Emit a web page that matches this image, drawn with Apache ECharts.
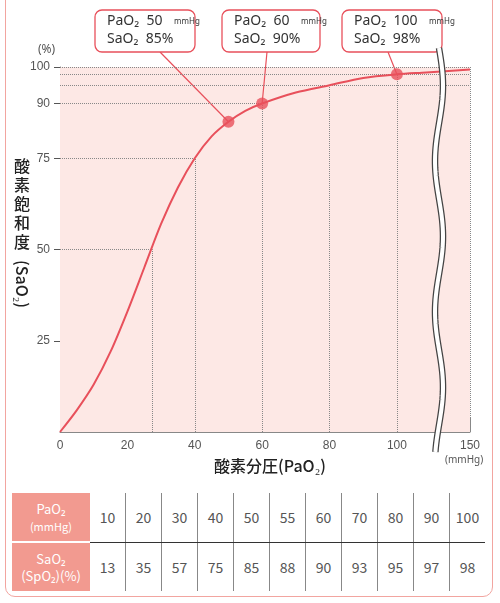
<!DOCTYPE html><html><head><meta charset="utf-8">
<script src="https://cdn.jsdelivr.net/npm/echarts@6/dist/echarts.min.js"></script>
<style>
body{margin:0;width:500px;height:603px;position:relative;background:#fff;font-family:"Noto Sans CJK JP","Noto Sans",sans-serif;overflow:hidden}
#frame{position:absolute;left:5px;top:-12px;width:486px;height:607px;border:1.5px solid #f2a5a0;border-radius:10px}
#c{position:absolute;left:0;top:0;width:500px;height:485px}
table{position:absolute;left:12px;top:493px;border-collapse:collapse;color:#555;font-size:14px;table-layout:fixed}
td{text-align:center;width:35px;height:48px;border-left:1px solid #888;padding:0}
td.h{background:#f29a90;color:#fff;width:78px;border:none;font-size:13px;line-height:17px}
tr.r1 td{border-bottom:1px solid #333}
tr.r1 td.h{border-bottom:2px solid #fff}
td.first{border-left:none}
</style></head><body>
<div id="frame"></div>
<div id="c"></div>
<table id="t"></table>
<script>
const tablePaO2=[10,20,30,40,50,55,60,70,80,90,100];
const tableSaO2=[13,35,57,75,85,88,90,93,95,97,98];
const curvePaO2=[0,5,10,15,20,25,30,35,40,45,50,55,60,70,80,90,100,120,150];
const curveSaO2=[0,6,13,22,33,45,57,67,75,81,85,88,90,93,95,97,98,98.5,99.3];
const calloutPaO2=[50,60,100];
const calloutSaO2=[85,90,98];
const xTicks=[0,20,40,60,80,100,150];
const yTicks=[25,50,75,90,100];
const guideY=[100,98,95];
const guideX=[[27.5,50],[40,75],[60,90],[80,95],[100,98],[150,100]];

const mx=v=>v<=100?v:100+(v-100)*21.7/50;
const ev=v=>Math.abs(v-121.7)<0.01?150:Math.round(v);

let h='<tr class="r1"><td class="h">PaO₂<br><span style="font-size:11px">(mmHg)</span></td>'+tablePaO2.map((v,i)=>`<td class="${i==0?'first':''}">${v}</td>`).join('')+'</tr>';
h+='<tr class="r2"><td class="h">SaO₂<br>(SpO₂)(%)</td>'+tableSaO2.map((v,i)=>`<td class="${i==0?'first':''}">${v}</td>`).join('')+'</tr>';
document.getElementById('t').innerHTML=h;

const red='#e8505b';
const chart=echarts.init(document.getElementById('c'));
const dotted={type:'dotted',color:'#888',width:1};
chart.setOption({
 animation:false,
 grid:{left:60,right:30,top:67,height:365},
 xAxis:{type:'value',min:0,max:121.7,
  axisLine:{lineStyle:{color:'#888'}},
  axisTick:{show:true,customValues:xTicks.map(mx),inside:true,length:14,lineStyle:{color:'#888'}},
  axisLabel:{customValues:xTicks.map(mx),formatter:v=>ev(v),color:'#555',fontSize:12,margin:8},
  splitLine:{show:false}},
 yAxis:{type:'value',min:0,max:100,
  axisLine:{show:true,lineStyle:{color:'#888'}},
  axisTick:{show:true,customValues:yTicks,length:6,lineStyle:{color:'#555'}},
  axisLabel:{customValues:yTicks,color:'#555',fontSize:12,margin:10},
  splitLine:{show:false}},
 series:[
  {type:'line',smooth:0.3,symbol:'none',lineStyle:{color:red,width:2},z:5,
   data:curvePaO2.map((x,i)=>[mx(x),curveSaO2[i]]),
   markArea:{silent:true,itemStyle:{color:'#fde8e5'},data:[[{coord:[0,0]},{coord:[121.7,100]}]]},
   markLine:{silent:true,symbol:'none',label:{show:false},lineStyle:dotted,
    data:[
     ...guideY.map(y=>[{coord:[0,y]},{coord:[121.7,y]}]),
     [{coord:[0,90]},{coord:[60,90]}],
     [{coord:[0,75]},{coord:[40,75]}],
     [{coord:[0,50]},{coord:[27.5,50]}],
     ...guideX.map(p=>[{coord:[mx(p[0]),0]},{coord:[mx(p[0]),p[1]]}])
    ]}},
  {type:'scatter',symbolSize:12,itemStyle:{color:red},z:6,
   data:calloutPaO2.map((x,i)=>[mx(x),calloutSaO2[i]])}
 ]
});

const g=[];
const bx=[[95,195],[222,320],[342,442]];
calloutPaO2.forEach((x,i)=>{
 const p=chart.convertToPixel({gridIndex:0},[mx(x),calloutSaO2[i]]);
 const [l,r]=bx[i];
 const ax=i==0?160:(l+r)/2-4;
 g.push({type:'line',shape:{x1:ax,y1:52,x2:p[0],y2:p[1]},style:{stroke:red,lineWidth:1.2},z:4});
 g.push({type:'rect',shape:{x:l,y:10,width:r-l,height:42,r:7},style:{fill:'#fff',stroke:red,lineWidth:1.3},z:10});
 g.push({type:'text',x:l+12,y:14,style:{text:`PaO₂  ${x}`,font:'14px "Noto Sans"',fill:'#333'},z:11});
 g.push({type:'text',x:l+12+(x>=100?75:67),y:18,style:{text:'mmHg',font:'8px "Noto Sans"',fill:'#333'},z:11});
 g.push({type:'text',x:l+12,y:32,style:{text:`SaO₂  ${calloutSaO2[i]}%`,font:'14px "Noto Sans"',fill:'#333'},z:11});
});
const bxp=chart.convertToPixel({gridIndex:0},[112.5,0])[0];
const pts=[];for(let y=48;y<=452;y+=4){pts.push([bxp+4*Math.sin((y-48)/24),y]);}
g.push({type:'polyline',shape:{points:pts},style:{stroke:'#444',lineWidth:6.5,fill:null},z:20});
g.push({type:'polyline',shape:{points:pts},style:{stroke:'#fff',lineWidth:4,fill:null},z:21});
g.push({type:'text',x:38,y:44,style:{text:'(%)',font:'12px "Noto Sans"',fill:'#555'}});
g.push({type:'text',x:445,y:455,style:{text:'(mmHg)',font:'10px "Noto Sans"',fill:'#555'}});
g.push({type:'text',x:270,y:466,style:{text:'酸素分圧(PaO₂)',font:'500 16px "Noto Sans CJK JP"',fill:'#222',align:'center',verticalAlign:'middle'}});
'酸素飽和度'.split('').forEach((c,i)=>g.push({type:'text',x:22,y:166+i*19,style:{text:c,font:'500 16px "Noto Sans CJK JP"',fill:'#222',align:'center',verticalAlign:'middle'}}));
g.push({type:'text',x:22,y:284,rotation:-Math.PI/2,style:{text:'(SaO₂)',font:'500 16px "Noto Sans CJK JP"',fill:'#222',align:'center',verticalAlign:'middle'}});
chart.setOption({graphic:g});
</script></body></html>
